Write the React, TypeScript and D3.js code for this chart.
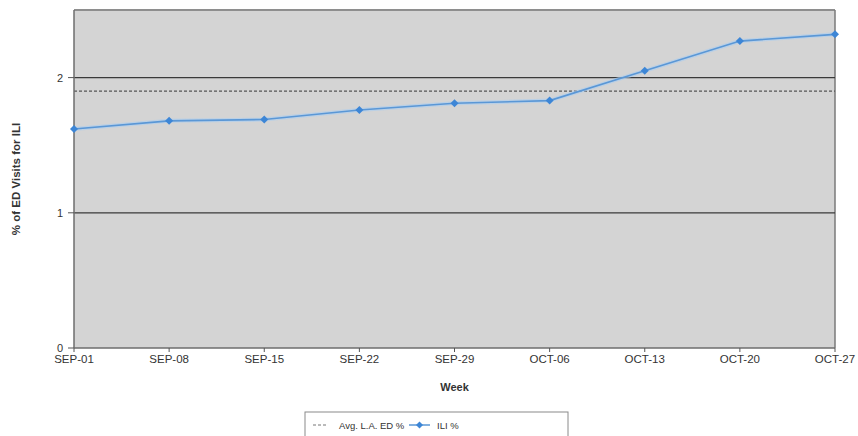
import React from "react";
import * as d3 from "d3";

// Weekly series
const weeks = ["SEP-01", "SEP-08", "SEP-15", "SEP-22", "SEP-29", "OCT-06", "OCT-13", "OCT-20", "OCT-27"];
const iliPercent = [1.62, 1.68, 1.69, 1.76, 1.81, 1.83, 2.05, 2.27, 2.32];
const avgLaEdPercent = 1.9;
const yTicks = [0, 1, 2];
const gridValues = [1, 2];

const W = 858;
const H = 436;
const margin = { left: 74, right: 23, top: 10, bottom: 88 };
const FONT = "'Liberation Sans', Arial, sans-serif";

export default function App() {
  const x = d3
    .scalePoint<string>()
    .domain(weeks)
    .range([margin.left, W - margin.right]);
  const y = d3
    .scaleLinear()
    .domain([0, 2.5])
    .range([H - margin.bottom, margin.top]);

  const line = d3
    .line<number>()
    .x((_, i) => x(weeks[i]) as number)
    .y((d) => y(d));

  const x0 = margin.left;
  const x1 = W - margin.right;
  const y0 = y(0);
  const yTop = y(2.5);
  const diamond = (cx: number, cy: number, r: number) =>
    `M${cx},${cy - r}L${cx + r},${cy}L${cx},${cy + r}L${cx - r},${cy}Z`;

  return (
    <svg
      width={W}
      height={H}
      style={{ position: "absolute", left: 0, top: 0, background: "#fff" }}
      fontFamily={FONT}
    >
      {/* plot area */}
      <rect x={x0} y={yTop} width={x1 - x0} height={y0 - yTop} fill="#d4d4d4" />
      <line x1={x0} x2={x1} y1={yTop} y2={yTop} stroke="#8e8e8e" strokeWidth={2} />
      <line x1={x1} x2={x1} y1={yTop} y2={y0} stroke="#7a7a7a" strokeWidth={1.5} />

      {/* horizontal gridlines */}
      {gridValues.map((v) => (
        <line key={v} x1={x0} x2={x1} y1={y(v)} y2={y(v)} stroke="#3a3a3a" strokeWidth={1.2} />
      ))}

      {/* average reference line */}
      <line
        x1={x0}
        x2={x1}
        y1={y(avgLaEdPercent)}
        y2={y(avgLaEdPercent)}
        stroke="#555"
        strokeWidth={1.2}
        strokeDasharray="3,2"
      />

      {/* axes */}
      <line x1={x0} x2={x0} y1={yTop} y2={y0} stroke="#6e6e6e" strokeWidth={1.5} />
      <line x1={x0} x2={x1} y1={y0} y2={y0} stroke="#6e6e6e" strokeWidth={1.5} />
      {yTicks.map((t) => (
        <g key={t}>
          <line x1={x0 - 6} x2={x0} y1={y(t)} y2={y(t)} stroke="#555" />
          <text x={x0 - 11} y={y(t) + 4} fontSize={11} textAnchor="end" fill="#333">
            {t}
          </text>
        </g>
      ))}
      {weeks.map((w) => (
        <g key={w}>
          <line x1={x(w)} x2={x(w)} y1={y0} y2={y0 + 4} stroke="#555" />
          <text x={x(w)} y={y0 + 15} fontSize={11.5} textAnchor="middle" fill="#333">
            {w}
          </text>
        </g>
      ))}

      {/* ILI series */}
      <path d={line(iliPercent) ?? ""} fill="none" stroke="#a9cdf2" strokeWidth={4} opacity={0.6} />
      <path d={line(iliPercent) ?? ""} fill="none" stroke="#5a97d6" strokeWidth={1.6} />
      {iliPercent.map((v, i) => (
        <path key={i} d={diamond(x(weeks[i]) as number, y(v), 4)} fill="#3d86d6" />
      ))}

      {/* axis titles */}
      <text x={(x0 + x1) / 2} y={391} fontSize={11} fontWeight="bold" textAnchor="middle" fill="#333">
        Week
      </text>
      <text
        transform={`translate(20,${(yTop + y0) / 2}) rotate(-90)`}
        fontSize={11.5}
        fontWeight="bold"
        textAnchor="middle"
        fill="#333"
      >
        % of ED Visits for ILI
      </text>

      {/* legend */}
      <rect x={305} y={412} width={263} height={30} fill="#fff" stroke="#8a8a8a" strokeWidth={1} />
      <line x1={313} x2={328} y1={425} y2={425} stroke="#777" strokeWidth={1} strokeDasharray="3,2" />
      <text x={339} y={428.5} fontSize={9.5} fill="#333">
        Avg. L.A. ED %
      </text>
      <line x1={409} x2={430} y1={425} y2={425} stroke="#5a97d6" strokeWidth={1.5} />
      <path d={diamond(419.5, 425, 3.5)} fill="#3d86d6" />
      <text x={437} y={428.5} fontSize={9.5} fill="#333">
        ILI %
      </text>
    </svg>
  );
}
